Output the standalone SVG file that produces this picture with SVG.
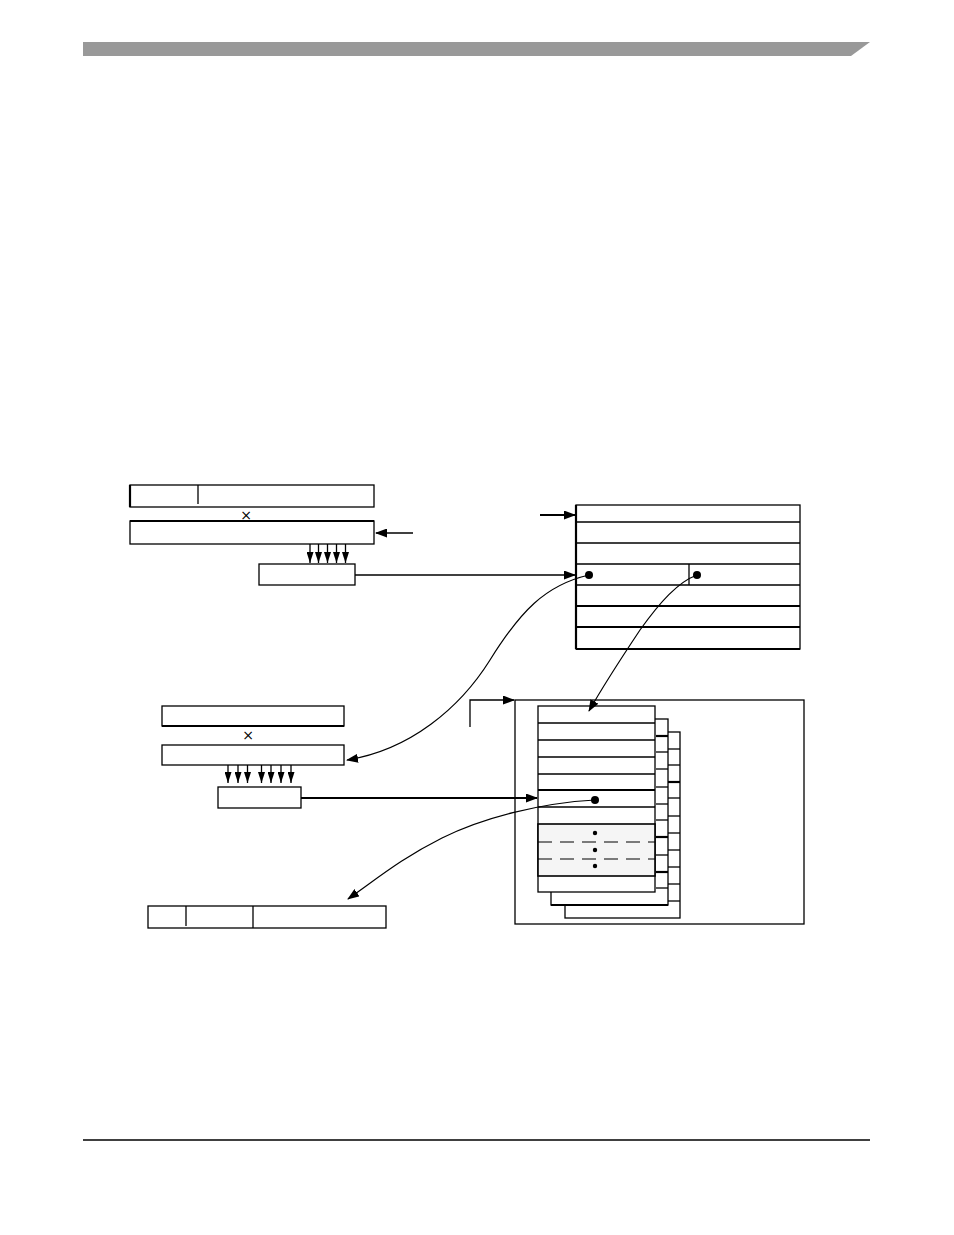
<svg xmlns="http://www.w3.org/2000/svg" width="954" height="1235" viewBox="0 0 954 1235">
<style>
.b{fill:#fff;stroke:#000;stroke-width:1.3}
.l{fill:none;stroke:#000;stroke-width:1.3}
.t{fill:none;stroke:#000;stroke-width:2.2}
.c{fill:none;stroke:#000;stroke-width:1.2}
.x{font-family:"DejaVu Sans",sans-serif;font-size:14px;fill:#000000}
</style>
<defs>
<marker id="ah" markerUnits="userSpaceOnUse" markerWidth="12" markerHeight="9" refX="11" refY="4.5" orient="auto">
<path d="M0,0 L12,4.5 L0,9 z" fill="#000"/>
</marker>
<marker id="dh" markerUnits="userSpaceOnUse" markerWidth="7" markerHeight="11" refX="3.5" refY="11" orient="0">
<path d="M0,0 L7,0 L3.5,11 z" fill="#000"/>
</marker>
</defs>
<rect width="954" height="1235" fill="#fff"/>
<polygon points="83,42 870,42 851,56 83,56" fill="#999"/>
<line x1="83" y1="1140" x2="870" y2="1140" stroke="#000" stroke-width="1.5"/>

<g id="reg-top">
<rect class="b" x="130" y="485" width="244" height="22"/>
<line class="t" x1="130" y1="485" x2="130" y2="507"/>
<line class="l" x1="198" y1="485" x2="198" y2="504"/>
</g>
<text class="x" x="246" y="520" text-anchor="middle">×</text>
<g id="reg-top2">
<rect class="b" x="130" y="521" width="244" height="23"/>
<line class="t" x1="130" y1="521" x2="374" y2="521"/>
</g>
<g id="idx-top">
<rect class="b" x="259" y="564" width="96" height="21"/>
</g>

<g id="table-top">
<rect class="b" x="576" y="505" width="224" height="144"/>
<line class="l" x1="576" y1="522" x2="800" y2="522"/>
<line class="l" x1="576" y1="543" x2="800" y2="543"/>
<line class="l" x1="576" y1="564" x2="800" y2="564"/>
<line class="l" x1="576" y1="585" x2="800" y2="585"/>
<line class="t" x1="576" y1="606" x2="800" y2="606"/>
<line class="t" x1="576" y1="627" x2="800" y2="627"/>
<line class="t" x1="576" y1="649" x2="800" y2="649"/>
<line class="t" x1="576" y1="505" x2="576" y2="649"/>
<line class="l" x1="689" y1="564" x2="689" y2="585"/>
<circle cx="589" cy="575" r="4" fill="#000"/>
<circle cx="697" cy="575" r="4" fill="#000"/>
</g>

<g id="reg-mid">
<rect class="b" x="162" y="706" width="182" height="20"/>
<line class="t" x1="162" y1="726" x2="344" y2="726"/>
</g>
<text class="x" x="248" y="740" text-anchor="middle">×</text>
<g id="reg-mid2">
<rect class="b" x="162" y="745" width="182" height="20"/>
</g>
<g id="idx-mid">
<rect class="b" x="218" y="787" width="83" height="21"/>
</g>

<g id="page-box">
<rect class="b" x="515" y="700" width="289" height="224"/>
</g>
<g id="page3">
<rect class="b" x="565" y="732" width="115" height="186"/>
<line class="l" x1="668" y1="749" x2="680" y2="749"/>
<line class="l" x1="668" y1="765" x2="680" y2="765"/>
<line class="t" x1="668" y1="782" x2="680" y2="782"/>
<line class="l" x1="668" y1="798" x2="680" y2="798"/>
<line class="l" x1="668" y1="816" x2="680" y2="816"/>
<line class="l" x1="668" y1="833" x2="680" y2="833"/>
<line class="l" x1="668" y1="850" x2="680" y2="850"/>
<line class="l" x1="668" y1="867" x2="680" y2="867"/>
<line class="l" x1="668" y1="884" x2="680" y2="884"/>
<line class="l" x1="668" y1="901" x2="680" y2="901"/>
</g>
<g id="page2">
<rect class="b" x="551" y="719" width="117" height="186"/>
<line class="t" x1="551" y1="905" x2="668" y2="905"/>
<line class="t" x1="656" y1="736" x2="668" y2="736"/>
<line class="l" x1="656" y1="752" x2="668" y2="752"/>
<line class="l" x1="656" y1="769" x2="668" y2="769"/>
<line class="l" x1="656" y1="787" x2="668" y2="787"/>
<line class="l" x1="656" y1="804" x2="668" y2="804"/>
<line class="l" x1="656" y1="820" x2="668" y2="820"/>
<line class="t" x1="656" y1="837" x2="668" y2="837"/>
<line class="l" x1="656" y1="855" x2="668" y2="855"/>
<line class="t" x1="656" y1="872" x2="668" y2="872"/>
<line class="l" x1="656" y1="888" x2="668" y2="888"/>
</g>
<g id="page1">
<rect class="b" x="538" y="706" width="117" height="186"/>
<line class="l" x1="538" y1="723" x2="655" y2="723"/>
<line class="l" x1="538" y1="740" x2="655" y2="740"/>
<line class="l" x1="538" y1="757" x2="655" y2="757"/>
<line class="l" x1="538" y1="774" x2="655" y2="774"/>
<line class="t" x1="538" y1="790" x2="655" y2="790"/>
<line class="l" x1="538" y1="807" x2="655" y2="807"/>
<rect x="538" y="824" width="117" height="52" fill="#f5f5f5" stroke="#000" stroke-width="1.6"/>
<line x1="538" y1="842" x2="655" y2="842" stroke="#000" stroke-width="1.1" stroke-dasharray="14,8"/>
<line x1="538" y1="859" x2="655" y2="859" stroke="#000" stroke-width="1.1" stroke-dasharray="14,8"/>
<circle cx="595" cy="833" r="2.2" fill="#000"/>
<circle cx="595" cy="850" r="2.2" fill="#000"/>
<circle cx="595" cy="866" r="2.2" fill="#000"/>
<circle cx="595" cy="800" r="4" fill="#000"/>
</g>

<g id="result">
<rect class="b" x="148" y="906" width="238" height="22"/>
<line class="l" x1="186" y1="906" x2="186" y2="926"/>
<line class="l" x1="253" y1="906" x2="253" y2="928"/>
</g>

<g id="connectors">
<line class="l" x1="413" y1="533" x2="376" y2="533" marker-end="url(#ah)"/>
<line class="l" x1="310" y1="544" x2="310" y2="563" marker-end="url(#dh)"/>
<line class="l" x1="318.5" y1="544" x2="318.5" y2="563" marker-end="url(#dh)"/>
<line class="l" x1="327.5" y1="544" x2="327.5" y2="563" marker-end="url(#dh)"/>
<line class="l" x1="336.5" y1="544" x2="336.5" y2="563" marker-end="url(#dh)"/>
<line class="l" x1="345.5" y1="544" x2="345.5" y2="563" marker-end="url(#dh)"/>
<line class="l" x1="355" y1="575" x2="575" y2="575" marker-end="url(#ah)"/>
<line class="t" x1="540" y1="515" x2="575" y2="515" marker-end="url(#ah)"/>
<path class="c" d="M589,575 C545,585 520,612 490,660 C460,708 410,750 347,760" marker-end="url(#ah)"/>
<path class="c" d="M697,575 C678,582 660,602 640,630 C620,660 602,688 589,711" marker-end="url(#ah)"/>
<line class="l" x1="228" y1="765" x2="228" y2="783" marker-end="url(#dh)"/>
<line class="l" x1="238" y1="765" x2="238" y2="783" marker-end="url(#dh)"/>
<line class="l" x1="247.5" y1="765" x2="247.5" y2="783" marker-end="url(#dh)"/>
<line class="l" x1="261.5" y1="765" x2="261.5" y2="783" marker-end="url(#dh)"/>
<line class="l" x1="271" y1="765" x2="271" y2="783" marker-end="url(#dh)"/>
<line class="l" x1="281" y1="765" x2="281" y2="783" marker-end="url(#dh)"/>
<line class="l" x1="291" y1="765" x2="291" y2="783" marker-end="url(#dh)"/>
<line class="t" x1="301" y1="798" x2="537" y2="798" marker-end="url(#ah)"/>
<path class="l" d="M470,727 L470,700 L514,700" marker-end="url(#ah)"/>
<path class="c" d="M595,800 C540,803 482,818 442,838 C402,858 378,878 348,899" marker-end="url(#ah)"/>
</g>
</svg>
